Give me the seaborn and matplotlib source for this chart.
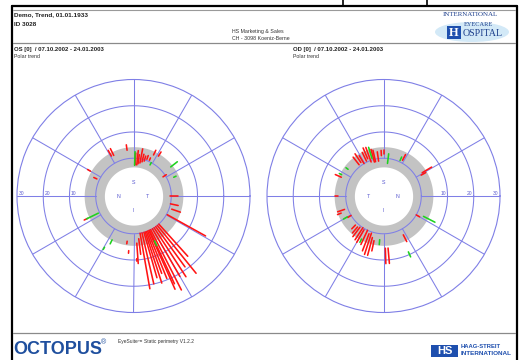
import numpy as np
import pandas as pd
import matplotlib
matplotlib.use("Agg")
import matplotlib.pyplot as plt
import seaborn as sns
from matplotlib.patches import Rectangle, Ellipse

sns.set_theme(style="white")
plt.rcParams['font.family'] = ['Liberation Sans', 'DejaVu Sans']

# ---- polar trend data: (angle in degrees, start, end, kind) per test location ----
os_angle = [116, 119, 98, 88, 87, 84, 82, 79, 76, 73, 70, 66, 64, 58, 62, 38, 25, 33,
            0, -12, -19, -29,
            -48, -51, -54, -57, -60, -63, -65, -66, -68, -70, -72, -74, -77, -80, -83, -86,
            -87, -95, -98, -65,
            -116, -119.5, 206, 206, 150, 155]
os_start = [2.8, 3.0, 3.2, -2.7, -2.5, -2.5, -2.0, -1.6, -1.0, -0.5, 0.5, 0.5, 3.0, 3.5, -1.0, 3.6, 2.5, -1.0,
            -0.5, 0.0, 1.0, 0.3,
            0, 0, 0, 0, 0, 0, 0, 0, 0, 0, 0, 0, 0, 0, 2.0, 3.6,
            9.5, 6.5, 3.0, 4.5,
            4.2, 8.0, 0.5, 5.0, 4.5, 1.0]
os_end = [5.7, 5.5, 5.3, 2.5, 2.0, 3.0, 1.5, 3.9, 2.0, 1.5, 2.0, 1.5, 5.0, 5.4, 0.0, 6.8, 3.5, 0.5,
          2.7, 3.0, 4.5, 17.0,
          16.5, 23.5, 19.0, 22.3, 21.0, 25.8, 22.5, 24.5, 19.5, 17.0, 20.5, 18.0, 20.0, 21.5, 8.0, 11.4,
          10.5, 7.5, 4.0, 6.5,
          5.9, 9.0, 5.5, 6.5, 5.8, 2.3]
os_kind = ['worse', 'worse', 'worse', 'better', 'worse', 'worse', 'worse', 'worse', 'worse', 'worse',
           'worse', 'worse', 'worse', 'worse', 'better', 'better', 'better', 'worse',
           'worse', 'worse', 'worse', 'worse',
           'worse', 'worse', 'worse', 'worse', 'worse', 'worse', 'worse', 'worse', 'worse', 'worse',
           'worse', 'worse', 'worse', 'worse', 'worse', 'worse',
           'worse', 'worse', 'worse', 'better',
           'better', 'better', 'better', 'worse', 'worse', 'worse']

od_angle = [128, 124, 121, 116, 113, 110, 107, 105, 103, 98, 93, 90, 83, 65, 62, 31, 29,
            156, 153, 143, 180, 199, 202, 210, 211,
            226, 230, 233, 237, 240, 243, 245, 249, 252, 255, 258, 265, 272, 275,
            297, 294, 333, 330]
od_start = [0.7, 1.0, 0.0, 0.4, 1.0, -0.6, 0.5, -1.0, -1.0, -1.0, 1.0, 1.5, -1.9, 0.5, 1.0, 2.8, 2.0,
            3.2, 3.5, 2.5, 3.0, 1.3, 3.0, 1.5, 0.0,
            1.0, 1.0, 0.5, 0.0, 0.5, 4.0, 0.0, 1.0, 0.5, 2.0, 3.0, 2.3, 5.5, 5.5,
            2.2, 8.9, 2.7, 0.0]
od_end = [4.4, 5.0, 3.5, 4.1, 5.5, 5.3, 5.0, 4.0, 3.5, 2.6, 3.0, 3.1, 1.8, 2.0, 3.5, 7.0, 4.0,
          5.7, 4.5, 3.5, 4.0, 4.1, 4.5, 3.2, 1.5,
          3.0, 4.0, 5.0, 5.5, 6.0, 5.4, 6.0, 8.0, 9.0, 9.0, 7.0, 4.2, 11.4, 11.4,
          5.1, 11.0, 7.6, 1.5]
od_kind = ['worse', 'worse', 'worse', 'worse', 'worse', 'worse', 'better', 'worse', 'worse', 'worse',
           'worse', 'worse', 'better', 'better', 'worse', 'worse', 'worse',
           'worse', 'better', 'better', 'worse', 'worse', 'worse', 'better', 'worse',
           'worse', 'worse', 'worse', 'worse', 'worse', 'better', 'worse', 'worse', 'worse', 'worse',
           'worse', 'better', 'worse', 'worse',
           'worse', 'better', 'better', 'worse']

ring_values = [10, 20, 30]
ring_labels = ['10', '20', '30']
spoke_angles = list(range(0, 360, 30))
band_low, band_high = -3.3, 4.4
r_center = -14.4
r_outer = 30

GRID = '#7f7fe6'
TXT_BLUE = '#5a5ad0'
KIND_COLORS = {'worse': '#ff1414', 'better': '#1ed21e'}

W, H = 520, 360
fig = plt.figure(figsize=(W / 100, H / 100), dpi=100)
fig.patch.set_facecolor('white')

# page layer in pixel coordinates
page = fig.add_axes([0, 0, 1, 1], zorder=0)
page.set_xlim(0, W)
page.set_ylim(H, 0)
page.axis('off')


def segments_frame(angles, starts, ends, kinds):
    rows = []
    for i, (a, s, e, k) in enumerate(zip(angles, starts, ends, kinds)):
        t = np.deg2rad(a)
        rows.append({'theta': t, 'r': s, 'seg': i, 'kind': k})
        rows.append({'theta': t, 'r': e, 'seg': i, 'kind': k})
    return pd.DataFrame(rows)


def polar_panel(cx, cy, radius, angles, starts, ends, kinds, labels_right, left_letter, right_letter):
    ax = fig.add_axes([(cx - radius) / W, (H - cy - radius) / H, 2 * radius / W, 2 * radius / H],
                      projection='polar', zorder=2)
    ax.set_facecolor('none')
    th = np.linspace(0, 2 * np.pi, 361)
    ax.fill_between(th, band_low, band_high, color='#c3c3c3', lw=0, zorder=1)
    for rv in [0] + ring_values[:-1]:
        ax.plot(th, np.full_like(th, rv), color=GRID, lw=0.75, zorder=2)
    for a in spoke_angles:
        ax.plot([np.deg2rad(a)] * 2, [0, r_outer], color=GRID, lw=0.75, zorder=2)

    df = segments_frame(angles, starts, ends, kinds)
    sns.lineplot(data=df, x='theta', y='r', hue='kind', units='seg', estimator=None, sort=False,
                 palette=KIND_COLORS, legend=False, lw=1.15, ax=ax, zorder=3)

    ax.set_ylim(r_center, r_outer)
    ax.set_xlabel('')
    ax.set_ylabel('')
    ax.set_xticks([])
    ax.set_yticks([])
    ax.grid(False)
    ax.spines['polar'].set_color(GRID)
    ax.spines['polar'].set_linewidth(0.8)

    for rv, lab in zip(ring_values, ring_labels):
        if labels_right:
            ax.text(0, rv - 0.6, lab, ha='right', va='bottom', fontsize=3.6, color=TXT_BLUE)
        else:
            ax.text(np.pi, rv - 0.6, lab, ha='left', va='bottom', fontsize=3.6, color=TXT_BLUE)

    letter_kw = dict(ha='center', va='center', fontsize=3.8, color=TXT_BLUE)
    ax.text(np.pi / 2, -9.4, 'S', **letter_kw)
    ax.text(3 * np.pi / 2, -9.0, 'I', **letter_kw)
    ax.text(np.pi, -8.6, left_letter, **letter_kw)
    ax.text(0, -9.0, right_letter, **letter_kw)
    return ax


polar_panel(133.5, 196, 116.5, os_angle, os_start, os_end, os_kind, False, 'N', 'T')
polar_panel(383.5, 196, 116.5, od_angle, od_start, od_end, od_kind, True, 'T', 'N')

# ---- page frame and header ----
page.plot([11.5, 11.5], [6, H], color='black', lw=1.6)
page.plot([11.5, 516.5], [6, 6], color='black', lw=1.6)
page.plot([516.5, 516.5], [6, H], color='black', lw=1.6)
page.plot([343, 343], [0, 6], color='black', lw=1.2)
page.plot([427, 427], [0, 6], color='black', lw=1.2)
page.plot([13, 515], [10, 10], color='#9a9a9a', lw=0.8)
page.plot([13, 515], [43, 43], color='#8a8a8a', lw=0.9)
page.plot([13, 515], [333, 333], color='#8a8a8a', lw=0.9)

page.text(14, 15, 'Demo, Trend, 01.01.1933', fontsize=4.6, fontweight='bold', color='#222222', va='center')
page.text(14, 25, 'ID 3028', fontsize=4.6, fontweight='bold', color='#222222', va='center')
page.text(232, 31.5, 'HS Marketing & Sales', fontsize=3.8, color='#333333', va='center')
page.text(232, 38, 'CH - 3098 Koeniz-Berne', fontsize=3.8, color='#333333', va='center')
page.text(14, 49.5, 'OS [0]  / 07.10.2002 - 24.01.2003', fontsize=4.3, fontweight='bold', color='#222222', va='center')
page.text(14, 56.5, 'Polar trend', fontsize=3.8, color='#333333', va='center')
page.text(293, 49.5, 'OD [0]  / 07.10.2002 - 24.01.2003', fontsize=4.3, fontweight='bold', color='#222222', va='center')
page.text(293, 56.5, 'Polar trend', fontsize=3.8, color='#333333', va='center')

# hospital logo
page.add_patch(Ellipse((472, 32), 74, 20, color='#d3e9f7', lw=0))
page.text(470, 15, 'INTERNATIONAL', fontsize=5, color='#1d3f8c', ha='center', va='center',
          family=['Liberation Serif', 'DejaVu Serif'])
page.text(478, 24, 'EYECARE', fontsize=4.6, color='#1d3f8c', ha='center', va='center',
          family=['Liberation Serif', 'DejaVu Serif'])
page.add_patch(Rectangle((447, 25.5), 14, 13.5, color='#1e4fae', lw=0))
page.text(454, 32.5, 'H', fontsize=9, fontweight='bold', color='white', ha='center', va='center',
          family=['Liberation Serif', 'DejaVu Serif'])
page.text(463, 34, 'OSPITAL', fontsize=7.2, color='#1d3f8c', ha='left', va='center',
          family=['Liberation Serif', 'DejaVu Serif'])

# footer
page.text(13, 349.5, 'OCTOPUS', fontsize=13, fontweight='bold', color='#1f4f9e', va='center')
page.text(101, 343, '®', fontsize=5, color='#1f4f9e', va='center')
page.text(118, 341.5, 'EyeSuite™ Static perimetry V1.2.2', fontsize=3.5, color='#333333', va='center')
page.add_patch(Rectangle((431, 345), 27, 12, color='#1e4fae', lw=0))
page.text(444.5, 351, 'HS', fontsize=8, fontweight='bold', color='white', ha='center', va='center')
page.text(461, 346, 'HAAG-STREIT', fontsize=4.2, fontweight='bold', color='#1e4fae', va='center')
page.text(461, 353.5, 'INTERNATIONAL', fontsize=4.6, fontweight='bold', color='#1e4fae', va='center')

fig.savefig('out.png', dpi=100)
